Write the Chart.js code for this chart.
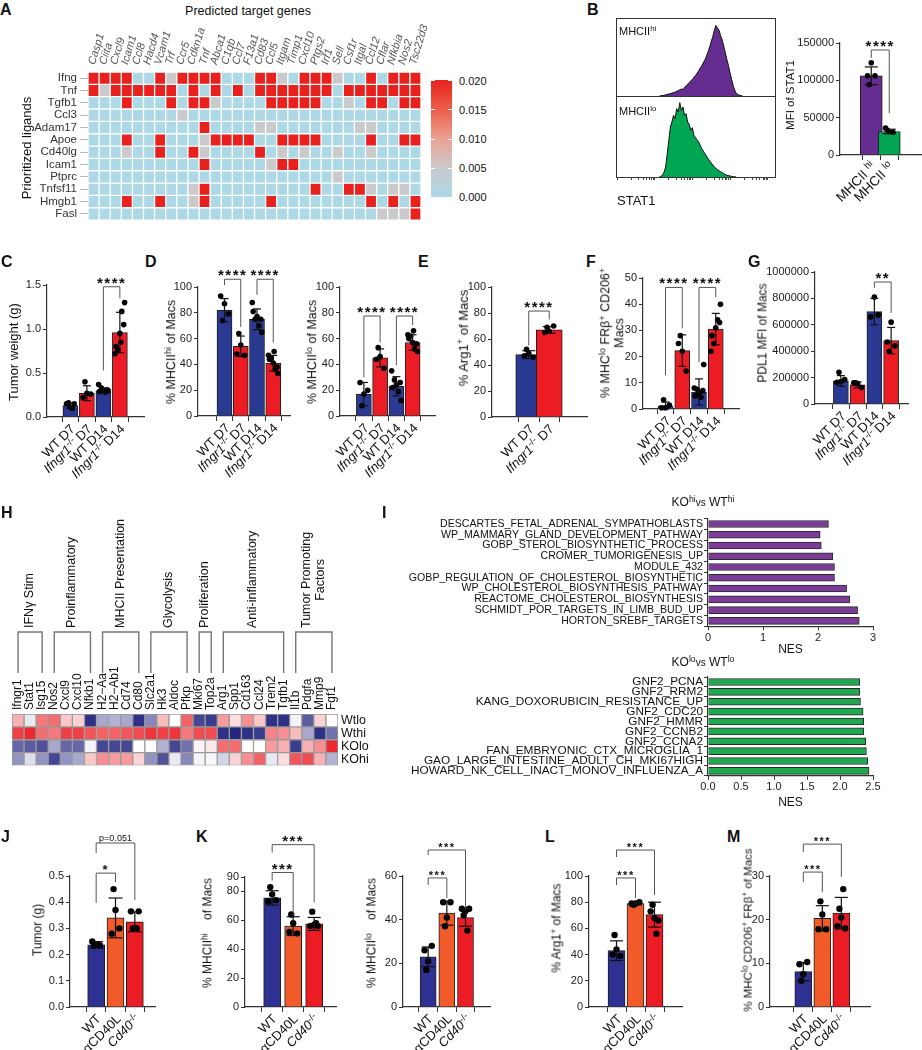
<!DOCTYPE html>
<html>
<head>
<meta charset="utf-8">
<script src="https://cdn.jsdelivr.net/npm/chart.js@4.4.1/dist/chart.umd.min.js"></script>
<style>
html, body { margin: 0; padding: 0; background: #fff; }
#fig { position: relative; width: 922px; height: 1050px; overflow: hidden; font-family: "Liberation Sans", Arial, sans-serif; color: #111; }
#fig canvas { position: absolute; }
.tx { position: absolute; white-space: nowrap; line-height: 1.1; transform-origin: 0 0; }
.tx sup { font-size: 0.72em; vertical-align: 0.5em; line-height: 0; }
.bar-key { position: absolute; }
</style>
</head>
<body>
<div id="fig"></div>
<script>
// ---------- data ----------
// A: ligand -> target regulatory potential (red = 0.020, grey ~ 0.005, blue = 0)
const aGenes = ["Casp1", "Ciita", "Cxcl9", "Icam1", "Ccl8", "Hacd4", "Vcam1", "Trf", "Ccr5", "Cdkn1a", "Tnf", "Abca1", "C1qb", "Ccl7", "F13a1", "Cd83", "Ccl5", "Itgam", "Timp1", "Cxcl10", "Ptgs2", "Irf1", "Sell", "Csf1r", "Itgal", "Ccl12", "Cflar", "Nfkbia", "Nos2", "Tsc22d3"];
const aLigands = ["Ifng", "Tnf", "Tgfb1", "Ccl3", "Adam17", "Apoe", "Cd40lg", "Icam1", "Ptprc", "Tnfsf11", "Hmgb1", "Fasl"];
const X = 0.02, g = 0.005, o = 0;
const aIfng    = [X,X,X,X,o,o,X,g,X,X,X,X,o,o,o,X,X,g,o,X,X,X,g,o,o,X,o,X,X,X];
const aTnf     = [X,g,X,X,X,X,X,X,o,X,o,X,o,X,o,X,X,X,X,X,X,X,o,X,X,X,X,X,X,X];
const aTgfb1   = [o,o,o,X,o,o,o,X,o,X,X,g,o,o,o,o,X,X,X,X,X,o,o,g,o,X,X,o,X,X];
const aCcl3    = [o,o,o,o,o,o,o,o,g,o,o,o,o,o,o,o,o,o,o,o,o,o,o,o,o,o,o,o,o,o];
const aAdam17  = [o,o,o,o,o,o,o,o,o,o,X,o,o,o,o,g,g,o,o,o,o,o,o,o,g,g,o,o,o,o];
const aApoe    = [o,o,o,X,o,o,X,o,o,o,g,X,X,X,X,o,o,X,X,X,X,o,o,o,o,X,o,o,X,X];
const aCd40lg  = [o,o,o,g,o,o,X,o,o,X,g,o,o,o,o,X,o,g,o,g,o,o,g,o,o,g,o,o,o,o];
const aIcam1   = [o,o,o,o,o,o,o,o,o,o,X,o,o,o,o,o,g,X,X,o,o,o,o,o,o,o,o,o,o,o];
const aPtprc   = [o,o,o,o,o,o,o,o,o,o,o,o,o,o,o,o,o,o,o,o,o,o,g,o,o,o,o,o,o,o];
const aTnfsf11 = [o,o,o,o,o,o,o,o,o,g,X,o,o,o,o,o,o,o,o,o,X,o,o,X,X,g,o,g,g,o];
const aHmgb1   = [o,o,o,X,o,o,X,o,o,g,X,o,o,o,o,o,X,o,o,o,o,o,o,o,o,X,o,X,o,X];
const aFasl    = [o,o,o,o,o,o,o,o,o,o,o,o,o,o,o,o,o,o,o,o,o,o,o,o,o,o,g,g,g,X];
const aRows = [aIfng, aTnf, aTgfb1, aCcl3, aAdam17, aApoe, aCd40lg, aIcam1, aPtprc, aTnfsf11, aHmgb1, aFasl];
const aKeyTicks = ["0.020", "0.015", "0.010", "0.005", "0.000"];

// B: STAT1 histograms (channel position, count) and MFI bars
const bHiX = [27,30,33,35,37,39,41,42,44,46,48,50,52,54,56,57,58,59,60,61,62,63,64,65,66,67,68,69,70,71,72,73,74,75,76,78,80];
const bHiY = [0,2,6,9,12,17,22,20,32,42,52,64,78,95,112,125,138,152,170,185,205,220,212,205,188,175,155,135,113,95,72,52,32,18,8,2,0];
const bLoX = [27,29,30,31,32,33,34,35,36,37,38,39,40,41,42,43,44,45,46,47,48,49,50,52,54,56,58,60,62,64,66,68,70,72,74,76];
const bLoY = [0,5,15,30,70,110,150,165,185,175,205,195,223,200,210,185,190,165,158,140,148,125,118,105,85,70,55,42,30,22,16,10,5,3,1,0];
const bHistTicks = [0,9,14,17,19,21,22,23,24,33,38,41,43,45,46,47,48,57,62,65,67,69,70,71,72,81,86,89,91,93,94,95,96];
const bCats = ["MHCII ^hi", "MHCII ^lo"];
const bMeans = [106000, 31500];
const bSD = [12000, 3000];
const bDots = [[123500, 106000, 106000, 94500], [31500, 36000, 30500, 33000]];
const bBrk = [[0, 1, 140600, 130000, 56000, "****"]];

// C-G: Ifngr1 knockout time course
const cgCats = ["WT D7", "Ifngr1-/- D7", "WT D14", "Ifngr1-/- D14"];
const cMeans = [0.13, 0.27, 0.30, 0.96];
const cSD = [0.03, 0.085, 0.03, 0.23];
const cDots = [[0.11, 0.15, 0.15, 0.16, 0.10], [0.27, 0.22, 0.26, 0.40], [0.30, 0.29, 0.31, 0.33, 0.28, 0.37, 0.30], [0.95, 0.80, 1.05, 0.76, 1.20, 0.72, 1.30, 0.85]];
const cBrk = [[2, 3, 1.48, 0.53, 1.35, "****"]];

const d1Means = [82, 54, 75, 41];
const d1SD = [9, 8, 8, 6];
const d1Dots = [[87, 93, 79, 74], [55, 48, 47, 64], [77, 81, 75, 75, 70, 88, 65], [41, 44, 38, 45, 36, 47, 33, 50]];
const d1Brk = [[0, 1, 106, 101.5, 69, "****"], [2, 3, 106, 94, 57, "****"]];

const d2Means = [17, 45, 23, 57];
const d2SD = [9, 7, 7.5, 6];
const d2Dots = [[17, 26, 20, 8], [46, 44, 37, 53], [24, 22, 26, 28, 19, 35, 12], [57, 60, 56, 62, 52, 63, 50, 66]];
const d2Brk = [[0, 1, 77.5, 30, 57, "****"], [2, 3, 77.5, 39.5, 70.5, "****"]];

const eCats = ["WT D7", "Ifngr1-/- D7"];
const eMeans = [48, 67];
const eSD = [3, 2.5];
const eDots = [[49, 47, 46, 52], [66, 65, 70, 69]];
const eBrk = [[0, 1, 81.5, 55, 75, "****"]];

const fMeans = [1.2, 22.3, 6.5, 30.5];
const fSD = [1.5, 6, 5, 6];
const fDots = [[0.5, 0.5, 1.5, 3.5], [22, 25, 14.5, 28], [6, 5, 7, 7.5, 4.5, 8, 17], [31, 28, 33, 25, 34, 22, 40]];
const fBrk = [[0, 1, 46.4, 12.9, 30.8, "****"], [2, 3, 46.4, 17.9, 42.6, "****"]];

const gMeans = [175000, 145000, 700000, 480000];
const gSD = [40000, 22000, 100000, 100000];
const gDots = [[170000, 165000, 185000, 240000], [155000, 160000, 125000, 160000], [810000, 660000, 675000], [620000, 470000, 440000, 400000]];
const gBrk = [[2, 3, 924000, 879000, 690000, "**"]];

// H: scaled expression (-1 blue .. +1 red)
const hGenes = ["Ifngr1", "Stat1", "Isg15", "Nos2", "Cxcl9", "Cxcl10", "Nfkb1", "H2\u2212Aa", "H2\u2212Ab1", "Cd74", "Cd80", "Slc2a1", "Hk3", "Aldoc", "Pfkp", "Mki67", "Top2a", "Arg1", "Spp1", "Cd163", "Ccl24", "Trem2", "Tgfb1", "Il1b", "Pdgfa", "Mmp9", "Fgf1"];
const hRows = ["Wtlo", "Wthi", "KOlo", "KOhi"];
const hWtlo = [0.35, -0.1, 0.6, 0.65, 0.25, 0.2, -0.95, -0.4, -0.35, -0.4, -0.95, -0.55, 0.3, 0, 0.7, -0.85, -0.9, 0.45, 0.15, 0.5, 0.25, -0.95, -0.95, -0.05, -0.75, 0.2, 0.02];
const hWthi = [0.85, 0.95, 0.65, 0.6, 0.85, 0.85, 0.75, 0.7, 0.7, 0.75, 0.8, 0.9, 0.85, 0.9, 0.6, 0.8, 0.8, -0.95, -1, -0.95, -0.9, 0.55, 0.5, 0.3, -0.4, -0.95, -0.65];
const hKOlo = [-0.7, -0.75, -0.8, -0.4, -0.7, -0.7, -0.05, -0.85, -0.85, -0.85, 0, 0, -0.35, -0.85, -0.65, 0.05, 0.1, 0.65, 0.65, 0, 0, 0.45, 0.35, -0.9, 0.35, 0.5, 0.95];
const hKOhi = [-0.5, -0.15, -0.5, -0.85, -0.5, -0.4, 0.25, 0.5, 0.45, 0.45, 0.2, -0.5, -0.8, -0.1, -0.55, -0.05, -0.03, -0.2, 0.2, 0.5, 0.7, -0.1, 0.15, 0.75, 0.8, 0.35, -0.35];
const hValues = [hWtlo, hWthi, hKOlo, hKOhi];
const hGroups = ["IFN\u03b3 Stim", "Proinflammatory", "MHCII Presentation", "Glycolysis", "Proliferation", "Anti-inflammatory", "Tumor Promoting<br>Factors"];
const hGroupStart = [0, 3, 7, 11, 15, 17, 23];
const hGroupEnd = [2, 6, 10, 14, 16, 22, 26];

// I: GSEA NES
const iHiTerms = ["DESCARTES_FETAL_ADRENAL_SYMPATHOBLASTS", "WP_MAMMARY_GLAND_DEVELOPMENT_PATHWAY", "GOBP_STEROL_BIOSYNTHETIC_PROCESS", "CROMER_TUMORIGENESIS_UP", "MODULE_432", "GOBP_REGULATION_OF_CHOLESTEROL_BIOSYNTHETIC", "WP_CHOLESTEROL_BIOSYNTHESIS_PATHWAY", "REACTOME_CHOLESTEROL_BIOSYNTHESIS", "SCHMIDT_POR_TARGETS_IN_LIMB_BUD_UP", "HORTON_SREBF_TARGETS"];
const iHiNES = [2.19, 2.04, 2.06, 2.27, 2.30, 2.30, 2.52, 2.58, 2.72, 2.75];
const iLoTerms = ["GNF2_PCNA", "GNF2_RRM2", "KANG_DOXORUBICIN_RESISTANCE_UP", "GNF2_CDC20", "GNF2_HMMR", "GNF2_CCNB2", "GNF2_CCNA2", "FAN_EMBRYONIC_CTX_MICROGLIA_1", "GAO_LARGE_INTESTINE_ADULT_CH_MKI67HIGH", "HOWARD_NK_CELL_INACT_MONOV_INFLUENZA_A"];
const iLoNES = [2.30, 2.30, 2.31, 2.35, 2.36, 2.36, 2.39, 2.40, 2.42, 2.44];

// J-M: CD40 blockade / knockout
const jmCats = ["WT", "\u03b1CD40L", "Cd40-/-"];
const jMeans = [0.237, 0.34, 0.325];
const jSD = [0.012, 0.076, 0.038];
const jDots = [[0.24, 0.25, 0.235, 0.235, 0.24], [0.37, 0.28, 0.30, 0.45], [0.30, 0.365, 0.365, 0.30, 0.30]];
const jBrk = [[0, 1, 0.511, 0.397, 0.477, "*"], [0, 2, 0.626, 0.588, 0.408, "p=0.051"]];

const k1Means = [75.5, 56, 57.5];
const k1SD = [5, 6.5, 4.5];
const k1Dots = [[78, 73, 74, 83], [58, 52, 51, 64], [57, 56, 56, 66, 58]];
const k1Brk = [[0, 1, 93.1, 87.6, 63.4, "***"], [0, 2, 112.4, 106.9, 72.4, "***"]];

const k2Means = [23, 43, 41];
const k2SD = [4.5, 5.5, 4];
const k2Dots = [[21, 26, 28, 17], [41, 48, 48, 37], [44, 45, 45, 42, 35]];
const k2Brk = [[0, 1, 59.1, 55.9, 49.9, "***"], [0, 2, 71.9, 69.6, 45.3, "***"]];

const lMeans = [43, 79, 70.5];
const lSD = [7.5, 1, 9.5];
const lDots = [[44, 40, 39, 55], [79, 79, 80, 78], [68, 73, 66, 78, 56]];
const lBrk = [[0, 1, 98.5, 93.1, 83.2, "***"], [0, 2, 119.8, 114.5, 85.5, "***"]];

const mMeans = [8.1, 20.3, 21.5];
const mSD = [2.1, 2.9, 3.6];
const mDots = [[7.5, 9.8, 10.3, 6.0], [21.2, 17.8, 17.8, 24.2], [20.5, 18.5, 18.0, 22.5, 27]];
const mBrk = [[0, 1, 30.9, 28.6, 26.3, "***"], [0, 2, 37.3, 35.5, 29.8, "***"]];

// ---------- styling / helpers ----------
const FONT = "'Liberation Sans', Arial, sans-serif";
const AX = "#333";
const BLUE = "#2a3a93", NAVY = "#2e3192", RED = "#ec1c24", ORANGE = "#f15a29";
const PURPLE = "#662d91", GREEN = "#00a651", IPURPLE = "#7b3c98", IGREEN = "#1fa84f";
const JIT = [0, -0.34, 0.34, -0.17, 0.17, -0.42, 0.42, 0.08];

Chart.defaults.font.family = FONT;
Chart.defaults.color = "#222";
Chart.defaults.animation = false;
Chart.defaults.responsive = false;
Chart.defaults.events = [];
Chart.defaults.plugins.legend.display = false;
Chart.defaults.plugins.tooltip.enabled = false;

const fig = document.getElementById("fig");

function addCanvas(x, y, w, h) {
  const c = document.createElement("canvas");
  c.width = w; c.height = h;
  c.style.left = x + "px"; c.style.top = y + "px";
  c.style.width = w + "px"; c.style.height = h + "px";
  fig.appendChild(c);
  return c;
}

// html text; (x, y) is the anchor, ax / ay pick which point of the box sits on it
function text(html, x, y, opts = {}) {
  const d = document.createElement("div");
  d.className = "tx";
  d.innerHTML = html;
  d.style.left = x + "px";
  d.style.top = y + "px";
  d.style.fontSize = (opts.size || 12) + "px";
  if (opts.color) d.style.color = opts.color;
  if (opts.weight) d.style.fontWeight = opts.weight;
  if (opts.align) d.style.textAlign = opts.align;
  const ax = opts.ax ?? -50, ay = opts.ay ?? -50;
  d.style.transform = (opts.rot ? "rotate(" + opts.rot + "deg) " : "") + "translate(" + ax + "%," + ay + "%)";
  fig.appendChild(d);
  return d;
}

function rich(s) {
  return s.replace(/([A-Za-z0-9]+)-\/-/g, "<i>$1</i><sup>-/-</sup>")
          .replace(/\^([^\s<]+)/g, "<sup>$1</sup>");
}

function letter(ch, x, y) {
  text(ch, x, y, { size: 16, weight: "bold", ax: 0, ay: 0 });
}

function mix(a, b, t) { return Math.round(a + (b - a) * t); }

const A_STOPS = [[0, [173, 216, 230]], [0.005, [202, 202, 204]], [0.01, [236, 160, 146]], [0.015, [236, 94, 74]], [0.02, [232, 33, 30]]];
function colorA(v) {
  for (let k = 1; k < A_STOPS.length; k++) {
    const [v1, c1] = A_STOPS[k];
    const [v0, c0] = A_STOPS[k - 1];
    if (v <= v1) {
      const t = (v - v0) / (v1 - v0);
      return "rgb(" + mix(c0[0], c1[0], t) + "," + mix(c0[1], c1[1], t) + "," + mix(c0[2], c1[2], t) + ")";
    }
  }
  return "rgb(232,33,30)";
}

function colorH(v) {
  const a = Math.min(1, Math.abs(v));
  const end = v < 0 ? [36, 38, 128] : [236, 30, 36];
  return "rgb(" + mix(255, end[0], a) + "," + mix(255, end[1], a) + "," + mix(255, end[2], a) + ")";
}

// ---------- dot + bar + SD panels ----------
function barPanel(p) {
  const n = p.means.length;
  const step = (p.last - p.first) / (n - 1);
  const xmin = -(p.first - p.L) / step;
  const xmax = n - 1 + (p.R - p.last) / step;
  const box = { x: p.L - 62, y: p.T - 50, w: p.R - p.L + 72, h: p.B - p.T + 62 };
  const cv = addCanvas(box.x, box.y, box.w, box.h);

  const pts = [];
  p.dots.forEach((arr, i) => arr.forEach((v, j) => {
    pts.push({ x: i + JIT[j % JIT.length] * p.bw / step, y: v });
  }));

  const deco = {
    id: "deco",
    afterDatasetsDraw(chart) {
      const { ctx, scales: { x, y } } = chart;
      const seg = (x1, y1, x2, y2) => { ctx.beginPath(); ctx.moveTo(x1, y1); ctx.lineTo(x2, y2); ctx.stroke(); };
      ctx.save();
      ctx.strokeStyle = "#111";
      ctx.lineWidth = 1.2;
      p.means.forEach((m, i) => {
        const cx = x.getPixelForValue(i);
        const t = y.getPixelForValue(m + p.sds[i]);
        const b = y.getPixelForValue(Math.max(0, m - p.sds[i]));
        const c = p.cap || 4;
        seg(cx, t, cx, b);
        seg(cx - c, t, cx + c, t);
        seg(cx - c, b, cx + c, b);
      });
      ctx.strokeStyle = "#555";
      ctx.lineWidth = 1;
      ctx.fillStyle = "#111";
      ctx.textAlign = "center";
      ctx.textBaseline = "alphabetic";
      p.brk.forEach(([a, b, top, ya, yb, label]) => {
        const xa = x.getPixelForValue(a), xb = x.getPixelForValue(b), yt = y.getPixelForValue(top);
        ctx.beginPath();
        ctx.moveTo(xa, y.getPixelForValue(ya));
        ctx.lineTo(xa, yt);
        ctx.lineTo(xb, yt);
        ctx.lineTo(xb, y.getPixelForValue(yb));
        ctx.stroke();
        const star = label[0] === "*";
        ctx.font = star ? "bold " + (p.star || 15) + "px " + FONT : "9px " + FONT;
        ctx.letterSpacing = star ? "1.5px" : "0px";
        ctx.fillText(label, (xa + xb) / 2, star ? yt + 1 : yt - 2);
      });
      ctx.restore();
    }
  };

  const chart = new Chart(cv, {
    type: "bar",
    data: {
      datasets: [
        {
          type: "scatter",
          data: pts,
          order: 1,
          clip: false,
          pointRadius: p.r || 2.8,
          pointBackgroundColor: "#000",
          pointBorderWidth: 0,
        },
        {
          type: "bar",
          data: p.means.map((m, i) => ({ x: i, y: m })),
          order: 2,
          backgroundColor: p.colors,
          borderColor: "#1d1d1d",
          borderWidth: 1,
          barThickness: p.bw,
        },
      ],
    },
    options: {
      layout: { padding: { top: p.T - box.y, right: box.x + box.w - p.R, bottom: 0, left: 0 } },
      scales: {
        x: {
          type: "linear",
          bounds: "data",
          min: xmin,
          max: xmax,
          afterBuildTicks: (s) => { s.ticks = p.means.map((m, i) => ({ value: i })); },
          afterFit: (s) => { s.height = box.y + box.h - p.B; },
          ticks: { display: false },
          grid: { drawOnChartArea: false, tickLength: 5, color: AX },
          border: { color: AX, width: 1.2 },
        },
        y: {
          type: "linear",
          bounds: "data",
          min: 0,
          max: p.yMax,
          afterFit: (s) => { s.width = p.L - box.x; },
          ticks: {
            stepSize: p.yStep,
            includeBounds: false,
            padding: 2,
            font: { size: 11 },
            color: "#222",
            callback: (v) => (p.dec ? v.toFixed(p.dec) : String(v)),
          },
          grid: { drawOnChartArea: false, tickLength: 4, color: AX },
          border: { color: AX, width: 1.2 },
        },
      },
    },
    plugins: [deco],
  });

  const bottom = box.y + chart.chartArea.bottom;
  p.cats.forEach((c, i) => {
    const px = box.x + chart.scales.x.getPixelForValue(i);
    text(rich(c), px + 3, bottom + 10, { size: p.lsize || 13, rot: -45, ax: -100, ay: -50 });
  });
  text(rich(p.title), p.tx, p.ty, { size: p.tsize || 12.5, rot: -90, align: "center" });
  return chart;
}

// ---------- panel A ----------
letter("A", 0, 1);
text("Predicted target genes", 248, 12, { size: 12.5 });
(function () {
  const box = { x: 0, y: 62, w: 430, h: 168 };
  const cv = addCanvas(box.x, box.y, box.w, box.h);
  const chart = new Chart(cv, {
    type: "bar",
    data: {
      labels: aGenes,
      datasets: aRows.map((row) => ({
        data: row.map(() => 1),
        backgroundColor: row.map(colorA),
        borderColor: "#fff",
        borderWidth: 1,
        borderSkipped: false,
        barPercentage: 1,
        categoryPercentage: 1,
      })),
    },
    options: {
      layout: { padding: { top: 72 - box.y, right: box.w - 421, bottom: box.y + box.h - 226, left: 0 } },
      scales: {
        x: { stacked: true, display: false },
        y: {
          stacked: true,
          reverse: true,
          min: 0,
          max: aLigands.length,
          afterFit: (s) => { s.width = 88; },
          afterBuildTicks: (s) => { s.ticks = aLigands.map((l, i) => ({ value: i + 0.5 })); },
          ticks: { autoSkip: false, padding: 3, font: { size: 11.5 }, color: "#333", callback: (v, i) => aLigands[i] },
          grid: { drawOnChartArea: false, tickLength: 8, color: "#bbb" },
          border: { display: false },
        },
      },
    },
  });
  aGenes.forEach((gname, i) => {
    const px = box.x + chart.scales.x.getPixelForValue(i);
    text("<i>" + gname + "</i>", px - 3, 64, { size: 11, color: "#555", rot: -73, ax: 0, ay: -50 });
  });
})();
text("Prioritized ligands", 27, 148, { size: 13, rot: -90 });
(function () {
  const key = document.createElement("div");
  key.className = "bar-key";
  key.style.cssText = "left:431px;top:80px;width:21px;height:117px;background:linear-gradient(to top,#add8e6 0%,#cacacc 25%,#eca092 50%,#ec5e4a 75%,#e8211e 100%);";
  fig.appendChild(key);
  aKeyTicks.forEach((t, k) => {
    const y = 81 + k * 29;
    text(t, 459, y, { size: 11, ax: 0 });
    const a = document.createElement("div");
    a.style.cssText = "position:absolute;left:431px;top:" + (80 + k * 29.25) + "px;width:4px;height:1px;background:#fff;";
    const b = document.createElement("div");
    b.style.cssText = "position:absolute;left:448px;top:" + (80 + k * 29.25) + "px;width:4px;height:1px;background:#fff;";
    fig.appendChild(a); fig.appendChild(b);
  });
})();

// ---------- panel B ----------
letter("B", 587, 1);
(function () {
  const frame = document.createElement("div");
  frame.style.cssText = "position:absolute;left:616px;top:18px;width:158px;height:158px;border:1px solid #333;";
  fig.appendChild(frame);
  const divider = document.createElement("div");
  divider.style.cssText = "position:absolute;left:616px;top:96px;width:159px;height:1px;background:#333;";
  fig.appendChild(divider);

  function hist(xs, ys, color, x, y, w, h, ticks) {
    const cv = addCanvas(x, y, w, h);
    return new Chart(cv, {
      type: "line",
      data: {
        datasets: [{
          data: xs.map((v, i) => ({ x: v, y: ys[i] })),
          borderColor: "#111",
          borderWidth: 1,
          backgroundColor: color,
          fill: "origin",
          pointRadius: 0,
          tension: 0,
        }],
      },
      options: {
        layout: { padding: 0 },
        scales: {
          x: ticks ? {
            type: "linear", bounds: "data", min: 0, max: 100,
            afterBuildTicks: (s) => { s.ticks = bHistTicks.map((v) => ({ value: v })); },
            afterFit: (s) => { s.height = 4; },
            ticks: { display: false },
            grid: { drawOnChartArea: false, tickLength: 3, color: "#444" },
            border: { display: false },
          } : { type: "linear", min: 0, max: 100, display: false },
          y: { min: 0, max: 240, display: false },
        },
      },
    });
  }
  hist(bHiX, bHiY, PURPLE, 617, 19, 157, 77, false);
  hist(bLoX, bLoY, GREEN, 617, 97, 157, 84, true);
  text(rich("MHCII^hi"), 619, 31, { size: 11, ax: 0 });
  text(rich("MHCII^lo"), 619, 111, { size: 11, ax: 0 });
  text("STAT1", 617, 201, { size: 13, ax: 0 });
})();
barPanel({
  L: 840, R: 921, T: 43, B: 155, first: 862, last: 898, bw: 22, cap: 6.5, lsize: 13.5,
  yMax: 150000, yStep: 50000, cats: bCats, means: bMeans, sds: bSD, dots: bDots, brk: bBrk,
  colors: [PURPLE, GREEN], title: "MFI of STAT1", tx: 790, ty: 95, tsize: 11.5,
});

// ---------- panels C-G ----------
letter("C", 1, 253);
letter("D", 145, 253);
letter("E", 418, 253);
letter("F", 586, 253);
letter("G", 748, 253);
const cgColors = [BLUE, RED, BLUE, RED];
barPanel({
  L: 47, R: 144, T: 285, B: 417, first: 62, last: 128, bw: 15,
  yMax: 1.5, yStep: 0.5, dec: 1, cats: cgCats, means: cMeans, sds: cSD, dots: cDots, brk: cBrk,
  colors: cgColors, title: "Tumor weight (g)", tx: 14, ty: 352, tsize: 13,
});
barPanel({
  L: 198, R: 290, T: 287, B: 416, first: 218, last: 283, bw: 15,
  yMax: 100, yStep: 20, cats: cgCats, means: d1Means, sds: d1SD, dots: d1Dots, brk: d1Brk,
  colors: cgColors, title: "% MHCII^hi of Macs", tx: 172, ty: 352,
});
barPanel({
  L: 340, R: 435, T: 287, B: 416, first: 356, last: 421, bw: 15,
  yMax: 100, yStep: 20, cats: cgCats, means: d2Means, sds: d2SD, dots: d2Dots, brk: d2Brk,
  colors: cgColors, title: "% MHCII^lo of Macs", tx: 313, ty: 352,
});
barPanel({
  L: 492, R: 587, T: 287, B: 417, first: 518, last: 559, bw: 26, cap: 6.5,
  yMax: 100, yStep: 20, cats: eCats, means: eMeans, sds: eSD, dots: eDots, brk: eBrk,
  colors: [BLUE, RED], title: "% Arg1^+ of Macs", tx: 464, ty: 338, tsize: 13,
});
barPanel({
  L: 643, R: 739, T: 277.5, B: 409, first: 657, last: 724, bw: 15,
  yMax: 50, yStep: 10, cats: cgCats, means: fMeans, sds: fSD, dots: fDots, brk: fBrk,
  colors: cgColors, title: "% MHC^lo FR\u03b2^+ CD206^+<br>Macs", tx: 613, ty: 333, tsize: 12.5,
});
barPanel({
  L: 815, R: 908, T: 272, B: 404, first: 834, last: 901, bw: 15,
  yMax: 1000000, yStep: 200000, cats: cgCats, means: gMeans, sds: gSD, dots: gDots, brk: gBrk,
  colors: cgColors, title: "PDL1 MFI of Macs", tx: 763, ty: 333, tsize: 12,
});

// ---------- panel H ----------
letter("H", 1, 504);
(function () {
  const box = { x: 5, y: 620, w: 380, h: 156 };
  const cv = addCanvas(box.x, box.y, box.w, box.h);
  const brackets = {
    id: "groups",
    afterDraw(chart) {
      const { ctx, scales: { x } } = chart;
      ctx.save();
      ctx.strokeStyle = "#777";
      ctx.lineWidth = 1.4;
      hGroupStart.forEach((a, k) => {
        const xa = x.getPixelForValue(a), xb = x.getPixelForValue(hGroupEnd[k]);
        ctx.beginPath();
        ctx.moveTo(xa, 673 - box.y);
        ctx.lineTo(xa, 632 - box.y);
        ctx.lineTo(xb, 632 - box.y);
        ctx.lineTo(xb, 673 - box.y);
        ctx.stroke();
      });
      ctx.restore();
    },
  };
  const chart = new Chart(cv, {
    type: "bar",
    data: {
      labels: hGenes,
      datasets: hValues.map((row) => ({
        data: row.map(() => 1),
        backgroundColor: row.map(colorH),
        borderColor: "#9a9a9a",
        borderWidth: 1,
        borderSkipped: false,
        barPercentage: 1,
        categoryPercentage: 1,
      })),
    },
    options: {
      layout: { padding: { top: 714 - box.y, left: 12 - box.x, bottom: box.y + box.h - 772, right: 0 } },
      scales: {
        x: { stacked: true, display: false },
        y: {
          stacked: true,
          reverse: true,
          position: "right",
          min: 0,
          max: hRows.length,
          afterFit: (s) => { s.width = box.x + box.w - 338; },
          afterBuildTicks: (s) => { s.ticks = hRows.map((r, i) => ({ value: i + 0.5 })); },
          ticks: { autoSkip: false, padding: 3, font: { size: 12.5 }, color: "#111", callback: (v, i) => hRows[i] },
          grid: { display: false, drawTicks: false },
          border: { display: false },
        },
      },
    },
    plugins: [brackets],
  });
  hGenes.forEach((gname, i) => {
    text(gname, box.x + chart.scales.x.getPixelForValue(i), 710, { size: 12, rot: -90, ax: 0, ay: -50 });
  });
  hGroups.forEach((name, k) => {
    const xa = chart.scales.x.getPixelForValue(hGroupStart[k]);
    const xb = chart.scales.x.getPixelForValue(hGroupEnd[k]);
    text(name, box.x + (xa + xb) / 2, 628, { size: 12.5, rot: -90, ax: 0, ay: -50, align: "center" });
  });
})();

// ---------- panel I ----------
letter("I", 382, 504);
function nesPanel(terms, vals, color, T, B, max, step, dec, boxTop, titleY, fsize) {
  const L = 708, R = 873, boxX = 370, boxW = 530;
  const boxBottom = titleY + 7.2;
  const cv = addCanvas(boxX, boxTop, boxW, boxBottom - boxTop);
  new Chart(cv, {
    type: "bar",
    data: {
      labels: terms,
      datasets: [{ data: vals, backgroundColor: color, borderColor: "#2a2a2a", borderWidth: 1, barThickness: 7 }],
    },
    options: {
      indexAxis: "y",
      layout: { padding: { top: T - boxTop, right: boxX + boxW - R, left: 0, bottom: 0 } },
      scales: {
        y: {
          afterFit: (s) => { s.width = L - boxX; },
          ticks: { autoSkip: false, padding: 1, font: { size: fsize }, color: "#111" },
          grid: { drawOnChartArea: false, tickLength: 4, color: AX },
          border: { color: AX, width: 1.2 },
        },
        x: {
          bounds: "data",
          min: 0,
          max: max,
          afterFit: (s) => { s.height = boxBottom - B; },
          ticks: { stepSize: step, padding: 1, font: { size: 11 }, color: "#222", callback: (v) => v.toFixed(dec) },
          grid: { drawOnChartArea: false, tickLength: 4, color: AX },
          border: { color: AX, width: 1.2 },
          title: { display: true, text: "NES", font: { size: 12 }, color: "#111", padding: 0 },
        },
      },
    },
  });
}
text("KO<sup>hi</sup><span style='font-size:10px'>vs</span> WT<sup>hi</sup>", 703, 503, { size: 12 });
nesPanel(iHiTerms, iHiNES, IPURPLE, 518.6, 626.4, 3, 1, 0, 510, 650, 10.6);
text("KO<sup>lo</sup><span style='font-size:10px'>vs</span> WT<sup>lo</sup>", 703, 663, { size: 12 });
nesPanel(iLoTerms, iLoNES, IGREEN, 677, 776, 2.5, 0.5, 1, 669, 803, 11.8);

// ---------- panels J-M ----------
letter("J", 1, 828);
letter("K", 196, 828);
letter("L", 545, 828);
letter("M", 727, 828);
const jmColors = [NAVY, ORANGE, RED];
barPanel({
  L: 70, R: 155, T: 876, B: 1007, first: 88, last: 146, bw: 17, cap: 7, r: 3.2, star: 13,
  yMax: 0.5, yStep: 0.1, dec: 1, cats: jmCats, means: jMeans, sds: jSD, dots: jDots, brk: jBrk,
  colors: jmColors, title: "Tumor (g)", tx: 38, ty: 930, tsize: 12,
});
barPanel({
  L: 245, R: 336, T: 876.5, B: 1007, first: 263, last: 326, bw: 17, cap: 6.5, r: 3.2, star: 15,
  yMax: 90, yStep: 20, cats: jmCats, means: k1Means, sds: k1SD, dots: k1Dots, brk: k1Brk,
  colors: jmColors, title: "% MHCII^hi\u00a0\u00a0\u00a0 of Macs", tx: 208, ty: 933, tsize: 12,
});
barPanel({
  L: 403, R: 490, T: 876, B: 1007, first: 419, last: 475, bw: 16, cap: 6.5, r: 3.2, star: 11,
  yMax: 60, yStep: 20, cats: jmCats, means: k2Means, sds: k2SD, dots: k2Dots, brk: k2Brk,
  colors: jmColors, title: "% MHCII^lo\u00a0\u00a0\u00a0 of Macs", tx: 372, ty: 933, tsize: 12,
});
barPanel({
  L: 589, R: 682, T: 876, B: 1007, first: 607, last: 664, bw: 17, cap: 6.5, r: 3.2, star: 11,
  yMax: 100, yStep: 20, cats: jmCats, means: lMeans, sds: lSD, dots: lDots, brk: lBrk,
  colors: jmColors, title: "% Arg1^+ of Macs", tx: 557, ty: 928, tsize: 12,
});
barPanel({
  L: 770, R: 870, T: 876, B: 1007, first: 795, last: 852, bw: 17, cap: 6.5, r: 3.2, star: 11,
  yMax: 30, yStep: 10, cats: jmCats, means: mMeans, sds: mSD, dots: mDots, brk: mBrk,
  colors: jmColors, title: "% MHC^lo CD206^+ FR\u03b2^+ of Macs", tx: 748, ty: 930, tsize: 11.5,
});
</script>
</body>
</html>
